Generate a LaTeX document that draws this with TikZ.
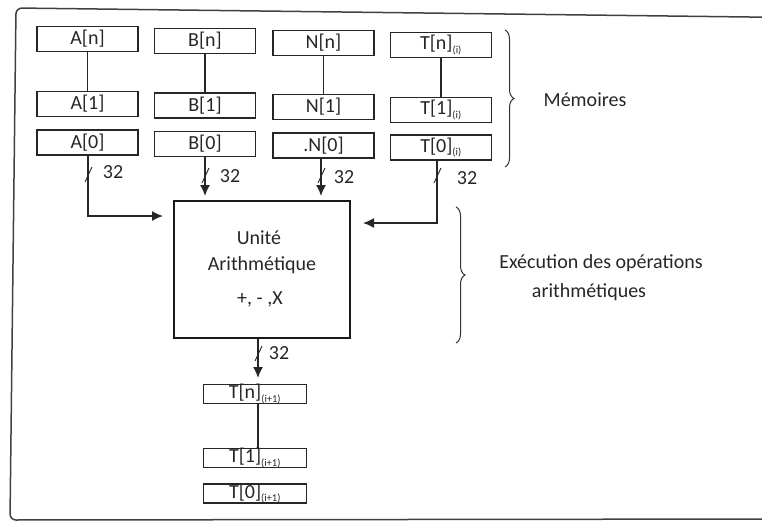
\documentclass[tikz,border=0pt]{standalone}
\usepackage{fontspec}
\setmainfont{Carlito}
\usetikzlibrary{arrows.meta,decorations.pathreplacing,calc}
\newcommand\smallsub[1]{\textsubscript{\fontsize{10.5}{11}\selectfont #1}}
\begin{document}
\begin{tikzpicture}[x=1pt,y=-1pt,
  txt/.style={font=\fontsize{20}{24}\selectfont,inner sep=0pt,text=black!85},
  cell/.style={txt,draw=black!85,line width=1.2pt,minimum width=101pt,minimum height=25pt},
  ocell/.style={txt,draw=black!85,line width=1.2pt,minimum width=103pt,minimum height=17pt},
  wire/.style={draw=black!85,line width=1.5pt},
  arr/.style={wire,-{Latex[length=11pt,width=10pt]}},
  tick/.style={draw=black!85,line width=0.9pt},
  brc/.style={draw=black!80,line width=1pt,decorate,decoration={brace,amplitude=9pt}},
  frame/.style={draw=black!75,line width=1.5pt,rounded corners=6pt}]
\useasboundingbox (0,0) rectangle (762,525);
% frame
\draw[frame] (790,17.5) -- (16,8) -- (10,520) -- (790,519);
% memory columns
\node[cell] (An) at (87.5,39)  {A[n]};
\node[cell] (A1) at (87.5,104) {A[1]};
\node[cell] (A0) at (87.5,142.5) {A[0]};
\node[cell] (Bn) at (205,41)   {B[n]};
\node[cell] (B1) at (205,105.5) {B[1]};
\node[cell] (B0) at (205,144)  {B[0]};
\node[cell] (Nn) at (323.5,43) {N[n]};
\node[cell] (N1) at (323.5,107) {N[1]};
\node[cell] (N0) at (323.5,145.5) {.N[0]};
\node[cell] (Tn) at (441,45)   {T[n]\smallsub{(i)}};
\node[cell] (T1) at (441,110)  {T[1]\smallsub{(i)}};
\node[cell] (T0) at (441,147.5) {T[0]\smallsub{(i)}};
\draw[wire] (An) -- (A1);
\draw[wire] (Bn) -- (B1);
\draw[wire] (Nn) -- (N1);
\draw[wire] (Tn) -- (T1);
% arithmetic unit
\node[draw=black!90,line width=1.7pt,minimum width=176pt,minimum height=137pt,inner sep=0pt] (U) at (262,269.5) {};
\node[txt] (u1) at (259,238) {Unité};
\node[txt] (u2) at (262,265) {Arithmétique};
\node[txt] (u3) at (260,299) {+, - ,X};
% inputs
\coordinate (ja) at (88,216);
\coordinate (ea) at (163,216);
\coordinate (eb) at (205,196);
\coordinate (en) at (321,196);
\coordinate (jt) at (437,223);
\coordinate (et) at (363,223);
\draw[arr] (A0.south -| ja) -- (ja) -- (ea);
\draw[arr] (B0.south -| eb) -- (eb);
\draw[arr] (N0.south -| en) -- (en);
\draw[arr] (T0.south -| jt) -- (jt) -- (et);
% bus width ticks and labels
\foreach \x/\y in {88/174,205/175,321/175,437/175}{
  \draw[tick] (\x-3,\y+8) -- (\x+4,\y-7);
}
\node[txt] (wa) at (113,172) {32};
\node[txt] (wb) at (230,176) {32};
\node[txt] (wn) at (344,177) {32};
\node[txt] (wt) at (467,178) {32};
% output
\node[ocell] (On) at (255,394) {T[n]\smallsub{(i+1)}};
\node[ocell] (O1) at (255,458) {T[1]\smallsub{(i+1)}};
\node[ocell] (O0) at (255,493.5) {T[0]\smallsub{(i+1)}};
\coordinate (eo) at (258,378);
\draw[arr] (U.south -| eo) -- (eo);
\draw[tick] (255,361) -- (262,346);
\node[txt] (wo) at (279,353) {32};
\draw[wire] (On.south -| eo) -- (O1.north -| eo);
% braces and notes
\coordinate (m1) at (505,30);
\coordinate (m2) at (505,167);
\draw[brc] (m1) -- (m2);
\node[txt] (mem) at (585,100) {Mémoires};
\coordinate (x1) at (456,207);
\coordinate (x2) at (456,343);
\draw[brc] (x1) -- (x2);
\node[txt] (ex1) at (601,263) {Exécution des opérations};
\node[txt] (ex2) at (589,292) {arithmétiques};
\end{tikzpicture}
\end{document}
